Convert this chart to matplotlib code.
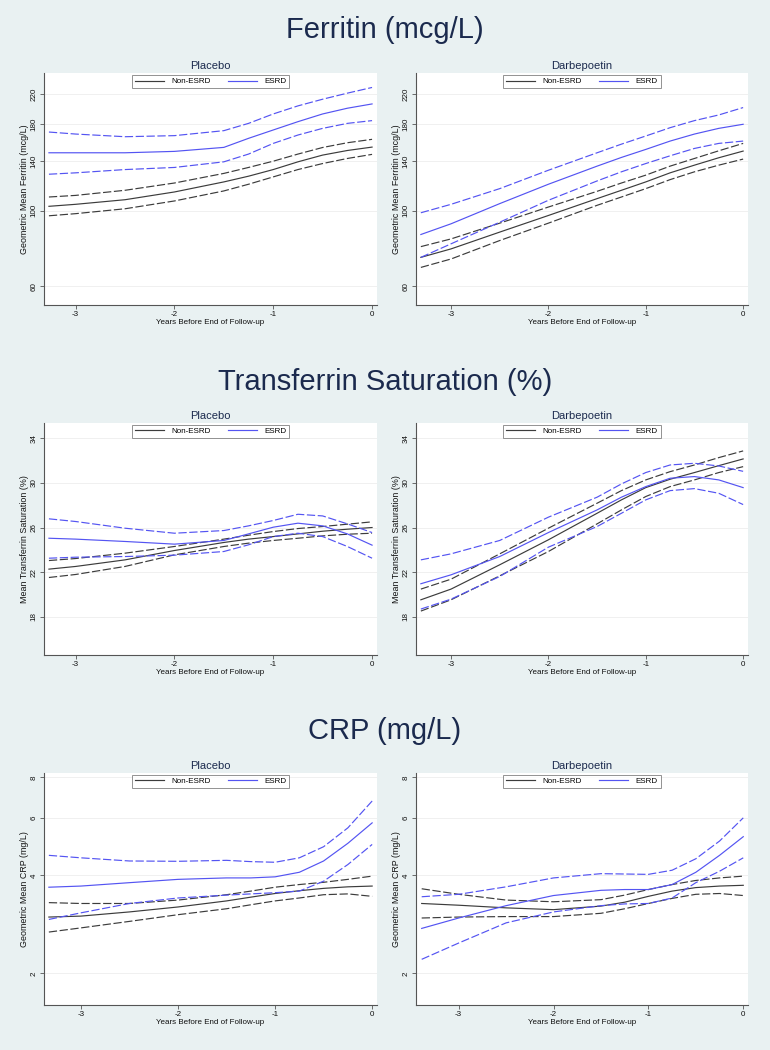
import matplotlib
matplotlib.use('Agg')
import matplotlib.pyplot as plt
from matplotlib.lines import Line2D
from matplotlib.ticker import FixedLocator, FixedFormatter, NullLocator

plt.rcParams['font.family'] = ['Liberation Sans', 'DejaVu Sans']
plt.rcParams['axes.unicode_minus'] = False

# ---------------- data ----------------
SECTION_TITLES = ["Ferritin (mcg/L)", "Transferrin Saturation (%)", "CRP (mg/L)"]
ARM_TITLES = ["Placebo", "Darbepoetin"]
GROUPS = ["Non-ESRD", "ESRD"]
X_LABEL = "Years Before End of Follow-up"
Y_LABELS = ["Geometric Mean Ferritin (mcg/L)", "Mean Transferrin Saturation (%)",
            "Geometric Mean CRP (mg/L)"]
X_TICKS = [-3, -2, -1, 0]
FER_TICKS = [60, 100, 140, 180, 220]
TSAT_TICKS = [18, 22, 26, 30, 34]
CRP_TICKS = [2, 4, 6, 8]

# Ferritin - Placebo
x_fer_pla = [-3.27, -3, -2.5, -2, -1.5, -1.25, -1, -0.75, -0.5, -0.25, 0]
fer_pla_non = [103.0, 104.4, 107.7, 113.5, 121.5, 126.3, 132.1, 139.2, 145.7, 150.3, 153.8]
fer_pla_non_hi = [109.7, 110.9, 114.8, 120.6, 128.7, 134.0, 139.8, 146.7, 153.4, 158.4, 162.1]
fer_pla_non_lo = [96.6, 98.0, 101.3, 106.8, 114.3, 119.6, 125.7, 132.1, 137.6, 142.4, 146.4]
fer_pla_esrd = [148.0, 148.0, 148.0, 149.4, 153.5, 163.2, 172.7, 182.7, 192.5, 200.1, 206.0]
fer_pla_esrd_hi = [170.3, 168.0, 165.0, 166.2, 171.9, 180.6, 192.5, 203.3, 212.7, 221.6, 230.3]
fer_pla_esrd_lo = [128.0, 129.2, 132.1, 134.0, 139.2, 146.7, 157.7, 166.9, 174.6, 180.6, 184.0]

# Ferritin - Darbepoetin
x_fer_dar = [-3.31, -3, -2.5, -2, -1.5, -1.25, -1, -0.75, -0.5, -0.25, 0]
fer_dar_non = [72.9, 77.2, 86.5, 96.8, 108.5, 114.8, 121.5, 129.2, 136.1, 143.1, 149.7]
fer_dar_non_hi = [78.4, 82.6, 91.9, 102.5, 114.0, 120.6, 127.2, 135.2, 142.4, 150.0, 157.7]
fer_dar_non_lo = [68.1, 72.1, 81.7, 91.9, 103.7, 109.7, 116.1, 123.4, 130.1, 136.1, 141.8]
fer_dar_esrd = [85.1, 91.5, 104.9, 119.6, 135.2, 143.4, 151.4, 160.2, 168.0, 174.6, 179.5]
fer_dar_esrd_hi = [98.6, 104.4, 116.1, 131.5, 148.0, 156.9, 165.8, 175.4, 184.0, 191.2, 201.0]
fer_dar_esrd_lo = [72.9, 79.9, 92.5, 107.3, 122.3, 130.1, 137.6, 145.0, 152.4, 157.7, 160.2]

# Transferrin saturation - Placebo
x_tsat_pla = [-3.27, -3, -2.5, -2, -1.5, -1.25, -1, -0.75, -0.5, -0.25, 0]
tsat_pla_non = [22.27, 22.51, 23.10, 23.94, 24.66, 24.96, 25.19, 25.43, 25.67, 25.85, 26.00]
tsat_pla_non_hi = [23.04, 23.22, 23.70, 24.30, 24.96, 25.31, 25.64, 25.91, 26.09, 26.30, 26.51]
tsat_pla_non_lo = [21.52, 21.79, 22.51, 23.55, 24.30, 24.60, 24.84, 25.04, 25.25, 25.40, 25.49]
tsat_pla_esrd = [25.04, 24.96, 24.75, 24.51, 24.84, 25.43, 26.03, 26.39, 26.15, 25.43, 24.42]
tsat_pla_esrd_hi = [26.78, 26.54, 25.94, 25.49, 25.73, 26.15, 26.63, 27.19, 27.04, 26.33, 25.55]
tsat_pla_esrd_lo = [23.25, 23.34, 23.40, 23.52, 23.85, 24.45, 25.19, 25.49, 25.19, 24.30, 23.25]

# Transferrin saturation - Darbepoetin
x_tsat_dar = [-3.31, -3, -2.5, -2, -1.5, -1.25, -1, -0.75, -0.5, -0.25, 0]
tsat_dar_non = [19.52, 20.48, 22.66, 24.90, 27.28, 28.48, 29.58, 30.33, 30.93, 31.55, 32.15]
tsat_dar_non_hi = [20.48, 21.37, 23.64, 25.94, 28.18, 29.31, 30.27, 31.01, 31.61, 32.27, 32.87]
tsat_dar_non_lo = [18.51, 19.52, 21.67, 23.85, 26.33, 27.58, 28.78, 29.67, 30.27, 30.93, 31.46]
tsat_dar_esrd = [20.96, 21.76, 23.40, 25.55, 27.58, 28.72, 29.67, 30.42, 30.57, 30.27, 29.58]
tsat_dar_esrd_hi = [23.10, 23.64, 24.84, 26.93, 28.72, 29.91, 30.93, 31.61, 31.76, 31.52, 31.04]
tsat_dar_esrd_lo = [18.69, 19.58, 21.61, 24.24, 26.09, 27.28, 28.48, 29.31, 29.49, 29.07, 28.06]

# CRP - Placebo
x_crp_pla = [-3.33, -3, -2.5, -2, -1.5, -1.25, -1, -0.75, -0.5, -0.25, 0]
crp_pla_non = [2.98, 3.00, 3.09, 3.20, 3.34, 3.43, 3.52, 3.59, 3.65, 3.69, 3.71]
crp_pla_non_hi = [3.30, 3.28, 3.28, 3.36, 3.49, 3.58, 3.68, 3.75, 3.81, 3.89, 3.98]
crp_pla_non_lo = [2.68, 2.76, 2.89, 3.03, 3.16, 3.25, 3.34, 3.41, 3.49, 3.51, 3.45]
crp_pla_esrd = [3.68, 3.71, 3.80, 3.89, 3.93, 3.93, 3.96, 4.09, 4.43, 5.02, 5.80]
crp_pla_esrd_hi = [4.61, 4.53, 4.43, 4.42, 4.45, 4.41, 4.39, 4.53, 4.90, 5.60, 6.77]
crp_pla_esrd_lo = [2.93, 3.07, 3.28, 3.41, 3.48, 3.51, 3.54, 3.58, 3.84, 4.32, 4.98]

# CRP - Darbepoetin
x_crp_dar = [-3.39, -3, -2.5, -2, -1.5, -1.25, -1, -0.75, -0.5, -0.25, 0]
crp_dar_non = [3.28, 3.24, 3.18, 3.14, 3.22, 3.31, 3.45, 3.58, 3.67, 3.71, 3.73]
crp_dar_non_hi = [3.64, 3.50, 3.36, 3.32, 3.37, 3.48, 3.62, 3.75, 3.86, 3.93, 3.98]
crp_dar_non_lo = [2.96, 2.98, 2.99, 2.99, 3.06, 3.16, 3.28, 3.40, 3.50, 3.52, 3.47]
crp_dar_esrd = [2.75, 2.96, 3.23, 3.47, 3.60, 3.62, 3.62, 3.75, 4.09, 4.61, 5.26]
crp_dar_esrd_hi = [3.44, 3.50, 3.69, 3.93, 4.05, 4.04, 4.03, 4.15, 4.50, 5.10, 6.01]
crp_dar_esrd_lo = [2.21, 2.48, 2.86, 3.09, 3.23, 3.27, 3.28, 3.41, 3.80, 4.12, 4.53]

# ---------------- style ----------------
BG = '#E9F1F2'
TITLE_C = '#1B2A4E'
GRAY = '#3C3C3C'
BLUE = '#5454F2'
AX_C = '#555555'
DASH = (0, (7, 2.2))

panels = [
    dict(x=x_fer_pla, non=(fer_pla_non, fer_pla_non_hi, fer_pla_non_lo),
         esrd=(fer_pla_esrd, fer_pla_esrd_hi, fer_pla_esrd_lo),
         log=True, ylim=(52.8, 254), yt=FER_TICKS, xlim=(-3.32, 0.05), row=0, col=0),
    dict(x=x_fer_dar, non=(fer_dar_non, fer_dar_non_hi, fer_dar_non_lo),
         esrd=(fer_dar_esrd, fer_dar_esrd_hi, fer_dar_esrd_lo),
         log=True, ylim=(52.8, 254), yt=FER_TICKS, xlim=(-3.36, 0.05), row=0, col=1),
    dict(x=x_tsat_pla, non=(tsat_pla_non, tsat_pla_non_hi, tsat_pla_non_lo),
         esrd=(tsat_pla_esrd, tsat_pla_esrd_hi, tsat_pla_esrd_lo),
         log=False, ylim=(14.57, 35.4), yt=TSAT_TICKS, xlim=(-3.32, 0.05), row=1, col=0),
    dict(x=x_tsat_dar, non=(tsat_dar_non, tsat_dar_non_hi, tsat_dar_non_lo),
         esrd=(tsat_dar_esrd, tsat_dar_esrd_hi, tsat_dar_esrd_lo),
         log=False, ylim=(14.57, 35.4), yt=TSAT_TICKS, xlim=(-3.36, 0.05), row=1, col=1),
    dict(x=x_crp_pla, non=(crp_pla_non, crp_pla_non_hi, crp_pla_non_lo),
         esrd=(crp_pla_esrd, crp_pla_esrd_hi, crp_pla_esrd_lo),
         log=True, ylim=(1.6, 8.27), yt=CRP_TICKS, xlim=(-3.38, 0.05), row=2, col=0),
    dict(x=x_crp_dar, non=(crp_dar_non, crp_dar_non_hi, crp_dar_non_lo),
         esrd=(crp_dar_esrd, crp_dar_esrd_hi, crp_dar_esrd_lo),
         log=True, ylim=(1.6, 8.27), yt=CRP_TICKS, xlim=(-3.45, 0.05), row=2, col=1),
]

W, H = 770, 1050
fig = plt.figure(figsize=(W / 100, H / 100), dpi=100)
fig.patch.set_facecolor(BG)

col_x = [(44, 377), (416, 748)]
row_y = [(73, 305), (422.7, 655), (772.7, 1005)]
title_y = [30, 382, 731]

for i, t in enumerate(SECTION_TITLES):
    fig.text(0.5, 1 - title_y[i] / H, t, ha='center', va='center',
             fontsize=21, color=TITLE_C)

for p in panels:
    x0, x1 = col_x[p['col']]
    y0, y1 = row_y[p['row']]
    ax = fig.add_axes([x0 / W, 1 - y1 / H, (x1 - x0) / W, (y1 - y0) / H])
    ax.set_facecolor('white')
    if p['log']:
        ax.set_yscale('log')
    for vals, col in ((p['non'], GRAY), (p['esrd'], BLUE)):
        mid, hi, lo = vals
        ax.plot(p['x'], hi, color=col, lw=0.85, linestyle=DASH)
        ax.plot(p['x'], lo, color=col, lw=0.85, linestyle=DASH)
        ax.plot(p['x'], mid, color=col, lw=0.85)
    ax.set_xlim(*p['xlim'])
    ax.set_ylim(*p['ylim'])
    ax.yaxis.set_major_locator(FixedLocator(p['yt']))
    ax.yaxis.set_major_formatter(FixedFormatter([str(v) for v in p['yt']]))
    ax.yaxis.set_minor_locator(NullLocator())
    ax.set_xticks(X_TICKS)
    ax.set_xticklabels([str(v) for v in X_TICKS])
    ax.grid(axis='y', color='#EEEEEE', lw=0.6)
    ax.set_axisbelow(True)
    for s in ('top', 'right'):
        ax.spines[s].set_visible(False)
    for s in ('left', 'bottom'):
        ax.spines[s].set_color(AX_C)
        ax.spines[s].set_linewidth(0.8)
    ax.tick_params(axis='both', labelsize=5.8, length=3, width=0.6, color=AX_C,
                   pad=1.5, labelcolor='#111111')
    for lab in ax.get_yticklabels():
        lab.set_rotation(90)
        lab.set_va('center')
    ax.set_xlabel(X_LABEL, fontsize=5.8, labelpad=0.5, color='#111111')
    ax.set_ylabel(Y_LABELS[p['row']], fontsize=6.4, labelpad=1, color='#111111')
    ax.set_title(ARM_TITLES[p['col']], fontsize=8, pad=3, color=TITLE_C)
    handles = [Line2D([], [], color=GRAY, lw=0.85), Line2D([], [], color=BLUE, lw=0.85)]
    leg = ax.legend(handles, GROUPS, loc='upper center', ncol=2, fontsize=5.8,
                    frameon=True, fancybox=False, edgecolor='#777777',
                    handlelength=3.6, handletextpad=0.9, columnspacing=2.2,
                    borderpad=0.35, borderaxespad=0.25)
    leg.get_frame().set_linewidth(0.7)

fig.savefig('out.png', dpi=100, facecolor=BG)
